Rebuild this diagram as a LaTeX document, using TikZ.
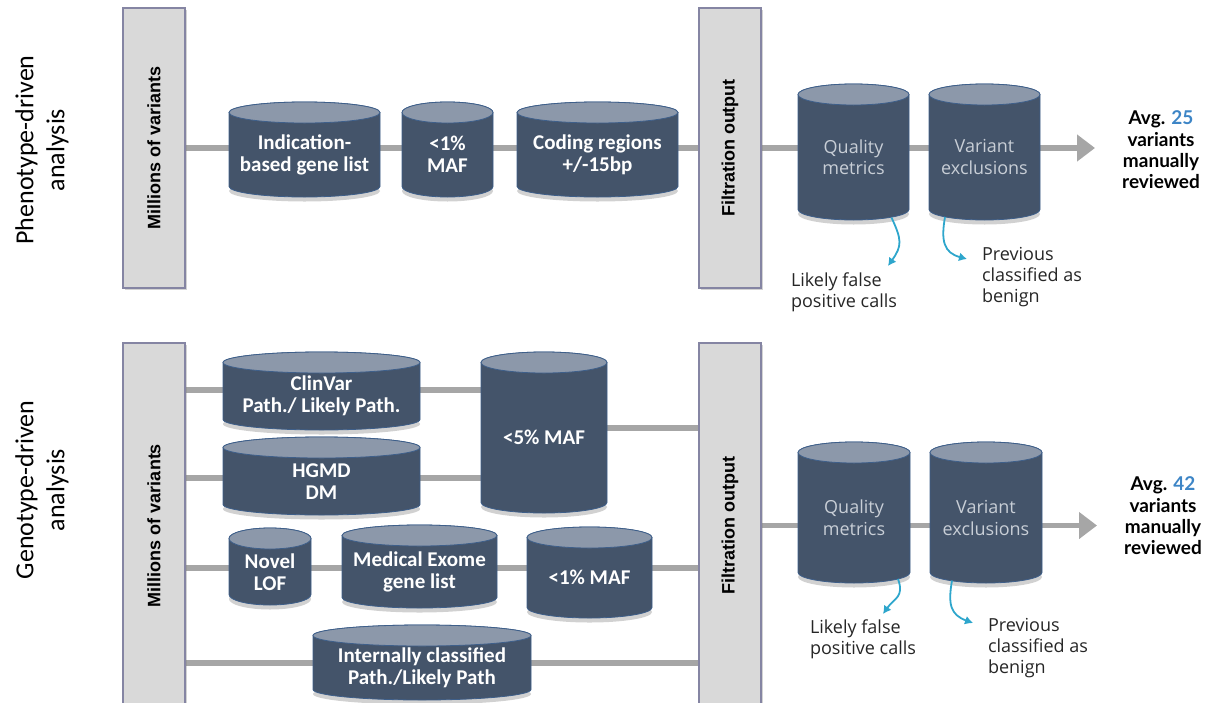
\documentclass[tikz,border=0pt]{standalone}
\usepackage{fontspec}
\setmainfont{Carlito}
\newfontfamily\opensans{Open Sans}
\newfontfamily\latofont{Lato}
\newfontfamily\arialfont{Liberation Sans}
\usepackage{xcolor}
\usepackage{graphicx}
\usepackage{tikz}
\usetikzlibrary{arrows.meta,shadows,calc}
\pgfdeclarelayer{lines}
\pgfdeclarelayer{shapes}
\pgfsetlayers{lines,shapes,main}

\definecolor{cylbody}{HTML}{44546A}
\definecolor{cyltop}{HTML}{8C98AA}
\definecolor{cylline}{HTML}{3E5F8A}
\definecolor{boxfill}{HTML}{D9D9D9}
\definecolor{boxline}{HTML}{8585A3}
\definecolor{linegray}{HTML}{A6A6A6}
\definecolor{notecol}{HTML}{2EA6CC}
\definecolor{numblue}{HTML}{3D85C6}
\definecolor{lighttext}{HTML}{C8CED6}

% cylinder: [style]{name}{centre x}{top y}{bottom y}{width}{text}
\newcommand{\cyl}[7][cylt]{%
  \node[#1, minimum width=#6*0.5pt, minimum height={(#5-#4-10.5)*0.5pt}]
       (#2) at (#3,{(#4+10.5+#5)/2}) {#7};
  \begin{pgfonlayer}{shapes}
    \fill[black, opacity=.18] ([yshift=3pt]#2.south)
         ellipse[x radius=#6*0.25pt, y radius=5.25pt];
    \filldraw[cylside] (#2.north west) -- ([yshift=5.25pt]#2.south west)
         arc[start angle=180, end angle=360, x radius=#6*0.25pt, y radius=5.25pt]
         -- (#2.north east)
         arc[start angle=0, end angle=180, x radius=#6*0.25pt, y radius=5.25pt]
         -- cycle;
    \filldraw[cylcap] (#2.north) ellipse[x radius=#6*0.25pt, y radius=5.25pt];
  \end{pgfonlayer}}

\begin{document}
\begin{tikzpicture}[x=0.5pt, y=-0.5pt,
  every node/.style={inner sep=0pt, outer sep=0pt},
  vbox/.style={rectangle, draw=boxline, line width=0.8pt, fill=boxfill,
               minimum width=31pt,
               drop shadow={opacity=.35, shadow xshift=1.2pt, shadow yshift=-1.2pt},
               font=\arialfont\bfseries\fontsize{9}{10}\selectfont},
  cylt/.style={align=center, text=white,
               font=\bfseries\fontsize{10.5}{11}\selectfont},
  cylq/.style={align=center, text=lighttext,
               font=\opensans\fontsize{9}{10.8}\selectfont},
  cylside/.style={fill=cylbody, draw=cylline, line width=0.4pt},
  cylcap/.style={fill=cyltop, draw=cylline, line width=0.4pt},
  paneltitle/.style={rotate=90, align=center, font=\fontsize{13}{15.5}\selectfont},
  remark/.style={anchor=west, align=left, text=black!85,
                 font=\opensans\fontsize{9}{10.5}\selectfont},
  avg/.style={align=center, font=\latofont\bfseries\fontsize{9.5}{10.7}\selectfont},
  flow/.style={draw=linegray, line width=2.8pt},
  outarrow/.style={flow, -{Triangle[length=9pt, width=13pt]}},
  aside/.style={draw=notecol, line width=0.9pt, looseness=1.3,
                -{Latex[length=4pt, width=4.5pt]}}
]
\useasboundingbox (0,0) rectangle (1210,702);

% phenotype-driven panel
\node[paneltitle] (pheno) at (42,150) {Phenotype-driven\\analysis};
\node[vbox, minimum height=140pt] (mil1) at (154,148) {\rotatebox{90}{Millions of variants}};
\node[vbox, minimum height=140pt] (fil1) at (730,148) {\rotatebox{90}{Filtration output}};
\cyl{ind}{304.5}{102}{197}{151}{Indication-\\based gene list}
\cyl{mafa}{447.5}{102}{197}{91}{<1\%\\MAF}
\cyl{cod}{597.5}{102}{197}{161}{Coding regions\\+/-15bp}
\cyl[cylq]{qua1}{853.5}{84}{220}{111}{Quality\\metrics}
\cyl[cylq]{var1}{984.5}{84}{220}{111}{Variant\\exclusions}
\coordinate (out1) at (1095,148);
\node[avg] (avg1) at (1161,150) {Avg. \textcolor{numblue}{25}\\variants\\manually\\reviewed};
\node[remark] (fp1) at (791,292.5) {Likely false\\positive calls};
\node[remark] (prev1) at (982,277.5) {Previous\\classified as\\benign};
\coordinate (tipa) at (888,266);
\coordinate (tipb) at (967,259);

% genotype-driven panel
\node[paneltitle] (geno) at (42,490) {Genotype-driven\\analysis};
\node[vbox, minimum height=182.5pt] (mil2) at (154,525.5) {\rotatebox{90}{Millions of variants}};
\node[vbox, minimum height=182.5pt] (fil2) at (730,525.5) {\rotatebox{90}{Filtration output}};
\cyl{clin}{321.5}{352}{430}{197}{ClinVar\\Path./ Likely Path.}
\cyl{hgmd}{321.5}{437}{515}{197}{HGMD\\DM}
\cyl{maff}{544}{352}{513}{126}{<5\% MAF}
\cyl{lof}{270}{528}{605}{82}{Novel\\LOF}
\cyl{mex}{419.5}{525}{608}{155}{Medical Exome\\gene list}
\cyl{mafb}{589.5}{527}{618}{125}{<1\% MAF}
\cyl{intc}{422}{625}{700}{218}{Internally classified\\Path./Likely Path}
\cyl[cylq]{qua2}{854}{442}{583}{112}{Quality\\metrics}
\cyl[cylq]{var2}{986}{442}{583}{112}{Variant\\exclusions}
\coordinate (out2) at (1097,525.5);
\node[avg] (avg2) at (1163,516) {Avg. \textcolor{numblue}{42}\\variants\\manually\\reviewed};
\node[remark] (fp2) at (810,639) {Likely false\\positive calls};
\node[remark] (prev2) at (988,648) {Previous\\classified as\\benign};
\coordinate (tipc) at (883,614);
\coordinate (tipd) at (973,623);

% rows of the genotype panel
\coordinate (r1) at (0,390);
\coordinate (r2) at (0,478);
\coordinate (r3) at (0,428);
\coordinate (r4) at (0,568);
\coordinate (r5) at (0,663);

\begin{pgfonlayer}{lines}
\draw[flow] (mil1) -- (fil1);
\draw[outarrow] (fil1) -- (out1);
\draw[flow] (mil2.east |- r1) -- (maff.west |- r1);
\draw[flow] (mil2.east |- r2) -- (maff.west |- r2);
\draw[flow] (maff.east |- r3) -- (fil2.west |- r3);
\draw[flow] (mil2.east |- r4) -- (fil2.west |- r4);
\draw[flow] (mil2.east |- r5) -- (fil2.west |- r5);
\draw[outarrow] (fil2) -- (out2);
\end{pgfonlayer}

\draw[aside] ([xshift=19pt,yshift=1.2pt]qua1.south) to[out=-65, in=55] (tipa);
\draw[aside] ([xshift=-19.75pt,yshift=1.5pt]var1.south) to[out=-100, in=165] (tipb);
\draw[aside] ([xshift=22pt,yshift=2pt]qua2.south) to[out=-70, in=55] (tipc);
\draw[aside] ([xshift=-17pt,yshift=1.2pt]var2.south) to[out=-100, in=160] (tipd);
\end{tikzpicture}
\end{document}
